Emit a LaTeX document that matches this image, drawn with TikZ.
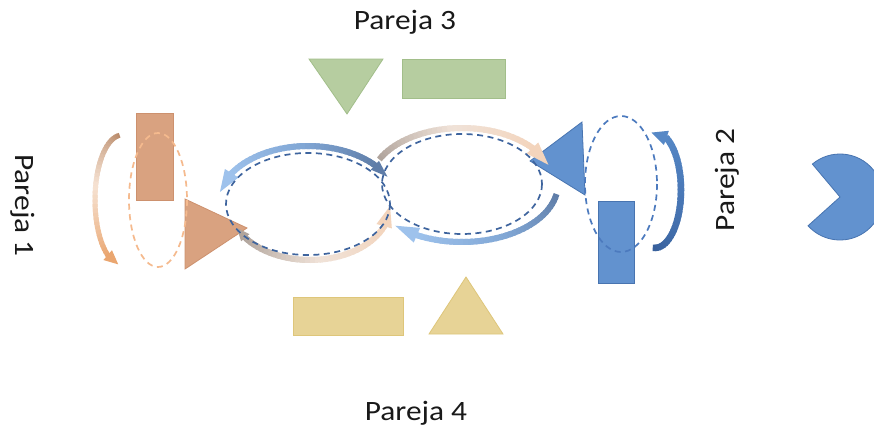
\documentclass[tikz,border=0pt]{standalone}
\usepackage{fontspec}
\setmainfont{Carlito}
\usetikzlibrary{calc}

% shape colours
\definecolor{orFill}{RGB}{217,162,128}
\definecolor{orLine}{RGB}{205,145,110}
\definecolor{blFill}{RGB}{98,146,207}
\definecolor{blLine}{RGB}{72,116,176}
\definecolor{grFill}{RGB}{182,205,160}
\definecolor{grLine}{RGB}{162,190,138}
\definecolor{yeFill}{RGB}{231,211,150}
\definecolor{yeLine}{RGB}{222,198,122}
% dashed rings
\definecolor{orDash}{RGB}{245,186,142}
\definecolor{blDash}{RGB}{62,100,158}
\definecolor{blDashB}{RGB}{76,122,190}
% arrow gradient stops
\definecolor{slate}{RGB}{95,125,168}
\definecolor{skyMid}{RGB}{130,168,214}
\definecolor{sky}{RGB}{158,194,236}
\definecolor{taupe}{RGB}{176,164,156}
\definecolor{paleMid}{RGB}{240,226,216}
\definecolor{peach}{RGB}{243,212,188}
\definecolor{brownA}{RGB}{186,140,108}
\definecolor{orPale}{RGB}{246,226,210}
\definecolor{orB}{RGB}{234,166,112}
\definecolor{navy}{RGB}{56,96,156}
\definecolor{navyMid}{RGB}{72,118,180}
\definecolor{navyB}{RGB}{86,136,198}
\definecolor{txt}{RGB}{25,25,25}

% thick elliptic arc whose colour runs through three stops
% #1 centre, #2 x radius, #3 y radius, #4 start angle, #5 end angle,
% #6 start colour, #7 middle colour, #8 end colour, #9 line width
\newcommand{\gradarc}[9]{%
  \foreach \gk in {1,...,36}{%
    \pgfmathsetmacro{\gAng}{#4+(#5-#4)*(\gk-1)/36}%
    \pgfmathsetmacro{\gBng}{#4+(#5-#4)*min(\gk+0.6,36)/36}%
    \pgfmathsetmacro{\gT}{(\gk-1)/35}%
    \pgfmathtruncatemacro{\gPa}{max(0,100-200*\gT)}%
    \pgfmathtruncatemacro{\gPb}{max(0,200*\gT-100)}%
    \ifnum\gPb>0 \colorlet{gradtmp}{#8!\gPb!#7}\else\colorlet{gradtmp}{#6!\gPa!#7}\fi
    \draw[gradtmp, line width=#9, shift={(#1)}]
      (\gAng:#2 and #3) arc[start angle=\gAng, end angle=\gBng, x radius=#2, y radius=#3];
  }%
}

% arrow head sitting on an elliptic arc
% #1 centre, #2 x radius, #3 y radius, #4 base angle, #5 tip angle, #6 colour, #7 half width (pt)
\newcommand{\archead}[7]{%
  \path[shift={(#1)}] (#4:#2 and #3) coordinate (hb) (#5:#2 and #3) coordinate (ht);
  \fill[#6] (ht) -- ($(hb)!#7pt!90:(ht)$) -- ($(hb)!#7pt!-90:(ht)$) -- cycle;
}

\tikzset{
  label text/.style={text=txt, font=\fontsize{28}{32}\selectfont, inner sep=0pt},
  orshape/.style={fill=orFill, draw=orLine, line width=0.8pt},
  blshape/.style={fill=blFill, draw=blLine, line width=0.8pt},
  grshape/.style={fill=grFill, draw=grLine, line width=0.8pt},
  yeshape/.style={fill=yeFill, draw=yeLine, line width=0.8pt},
  ring/.style={line width=1.7pt, dash pattern=on 6pt off 4.5pt},
}

\begin{document}
\begin{tikzpicture}[x=1pt,y=-1pt]
\useasboundingbox (0,0) rectangle (874,431);
\clip (0,0) rectangle (874,431);
\fill[white] (0,0) rectangle (874,431);

% --- pair 3 (green)
\draw[grshape] (309,59) -- (383,59) -- (347,114) -- cycle;
\draw[grshape] (402,59) rectangle (505,98);

% --- pair 4 (yellow)
\draw[yeshape] (293,297) rectangle (403,335);
\draw[yeshape] (429,334) -- (466,277) -- (503,334) -- cycle;

% --- pair 1 (orange)
\draw[orshape] (136,113) rectangle (173,200);
\draw[orshape] (185,199) -- (247,228) -- (185,269) -- cycle;

% --- pair 2 (blue)
\draw[blshape] (582,122) -- (585,195) -- (530,161) -- cycle;
\draw[blshape] (598,201) rectangle (634,283);

% --- pie on the right
\draw[blshape] (840,197) -- ++(-130:43) arc[start angle=-130, end angle=138, radius=43] -- cycle;

% --- circulation arrows, left loop
\gradarc{308,204}{90}{58}{-40}{-150}{slate}{skyMid}{sky}{6}
\archead{308,204}{90}{58}{-148}{-168}{sky}{8}
\archead{308,204}{90}{58}{-42}{-28}{slate}{6}

\gradarc{310,206}{80}{54}{146}{20}{taupe}{paleMid}{peach}{6}
\archead{310,206}{80}{54}{22}{0}{peach}{8}
\archead{310,206}{80}{54}{144}{156}{taupe}{5.5}

% --- circulation arrows, right loop
\gradarc{462,184}{92}{56}{-154}{-38}{taupe}{paleMid}{peach}{6}
\archead{462,184}{92}{56}{-40}{-20}{peach}{8}

\gradarc{462,184}{96}{58}{10}{120}{slate}{skyMid}{sky}{6}
\archead{462,184}{96}{58}{118}{134}{sky}{8}

% --- side arrows
\gradarc{122,200}{27}{65}{-95}{-240}{brownA}{orPale}{orB}{5}
\archead{122,200}{27}{65}{-238}{-262}{orB}{6.5}

\gradarc{655,190}{26}{58}{95}{-66}{navy}{navyMid}{navyB}{6.5}
\archead{655,190}{26}{58}{-64}{-98}{navyB}{7.5}

% --- dashed rings
\draw[ring, orDash] (158,200) ellipse[x radius=29, y radius=67];
\draw[ring, blDash] (308,204) ellipse[x radius=82, y radius=51];
\draw[ring, blDash] (462,184) ellipse[x radius=80, y radius=50];
\draw[ring, blDashB] (621,184) ellipse[x radius=36, y radius=68];

% --- labels
\node[label text, anchor=base] (p3) at (405,29) {\scalebox{1.12}[1]{Pareja 3}};
\node[label text, anchor=base] (p4) at (416,420) {\scalebox{1.12}[1]{Pareja 4}};
\node[label text, anchor=base, rotate=-90] (p1) at (16,205.5) {\scalebox{1.12}[1]{Pareja 1}};
\node[label text, anchor=base, rotate=90] (p2) at (734,180) {\scalebox{1.12}[1]{Pareja 2}};
\end{tikzpicture}
\end{document}
